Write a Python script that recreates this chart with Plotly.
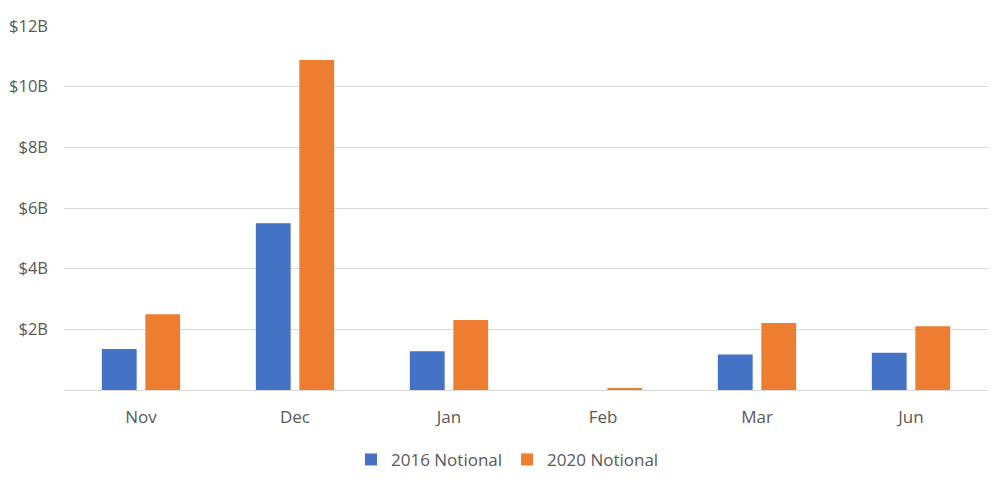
import plotly.graph_objects as go

months = ["Nov", "Dec", "Jan", "Feb", "Mar", "Jun"]
notional_2016 = [1.35, 5.50, 1.28, 0.0, 1.17, 1.23]   # $B
notional_2020 = [2.50, 10.88, 2.31, 0.05, 2.21, 2.10]  # $B
tick_vals = [2, 4, 6, 8, 10, 12]
tick_text = ["$2B", "$4B", "$6B", "$8B", "$10B", "$12B"]

font_family = "Open Sans, Segoe UI, Arial, sans-serif"

fig = go.Figure()
fig.add_trace(go.Bar(
    x=months, y=notional_2016, name="2016 Notional",
    marker=dict(color="#4472C4", line=dict(width=0)),
))
fig.add_trace(go.Bar(
    x=months, y=notional_2020, name="2020 Notional",
    marker=dict(color="#ED7D31", line=dict(width=0)),
))

fig.update_layout(
    width=992, height=473,
    margin=dict(l=56, r=12, t=18, b=91, autoexpand=False),
    paper_bgcolor="white", plot_bgcolor="white",
    barmode="group", bargap=0.435, bargroupgap=0.2,
    font=dict(family=font_family, size=17, color="#595959"),
    showlegend=True,
    legend=dict(orientation="h", x=0.48, xanchor="center", y=-0.192, yanchor="middle",
                font=dict(size=17, color="#595959"), itemwidth=30,
                traceorder="normal"),
    xaxis=dict(showgrid=False, showline=False, ticks="", ticklabelstandoff=15,
               automargin=False,
               tickfont=dict(size=17, color="#595959")),
    yaxis=dict(range=[0, 12], tickvals=tick_vals, ticktext=tick_text,
               showgrid=True, gridcolor="#d9d9d9", gridwidth=1,
               zeroline=True, zerolinecolor="#d9d9d9", zerolinewidth=1,
               showline=False, ticks="", ticklabelstandoff=15,
               automargin=False,
               tickfont=dict(size=16.5, color="#595959")),
)

fig.write_html("out.html")
